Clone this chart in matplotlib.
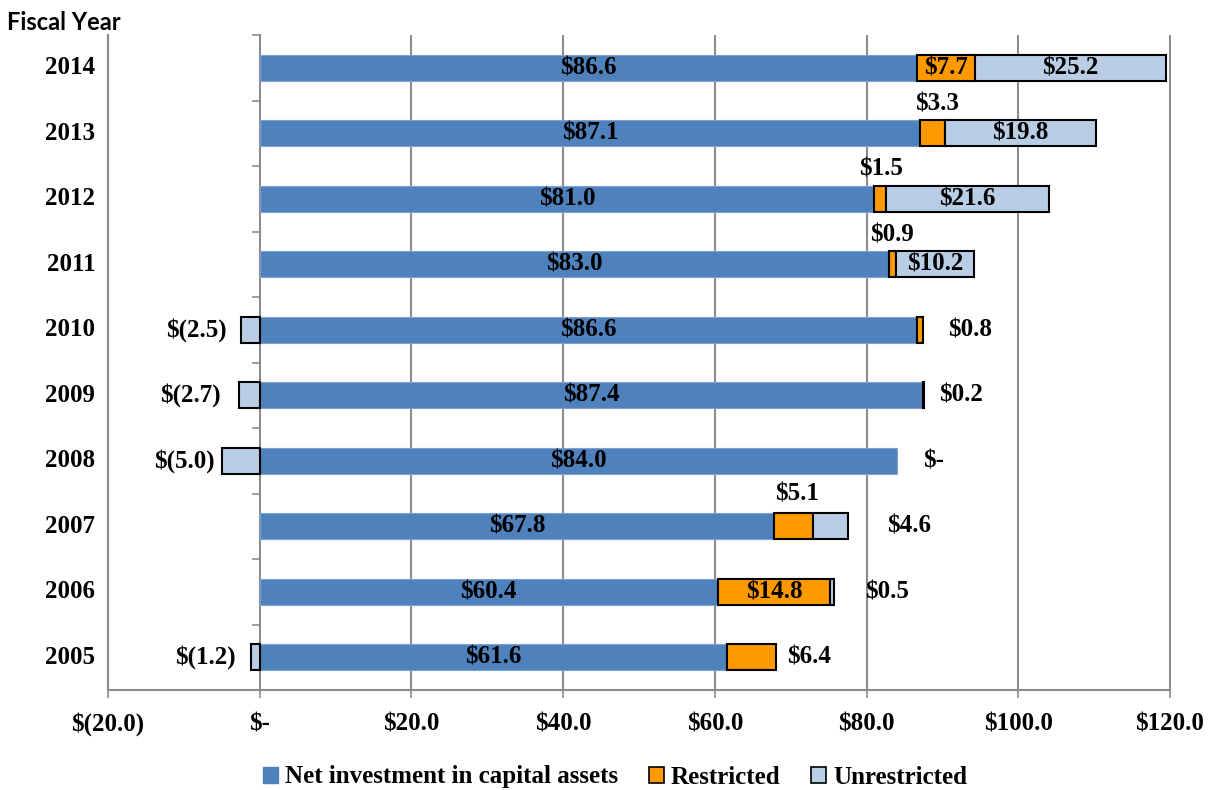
import matplotlib
matplotlib.use("Agg")
import matplotlib.pyplot as plt
from matplotlib.patches import Patch
import numpy as np

years = ["2005", "2006", "2007", "2008", "2009", "2010", "2011", "2012", "2013", "2014"]
net_investment = [61.6, 60.4, 67.8, 84.0, 87.4, 86.6, 83.0, 81.0, 87.1, 86.6]
restricted = [6.4, 14.8, 5.1, 0.0, 0.2, 0.8, 0.9, 1.5, 3.3, 7.7]
unrestricted = [-1.2, 0.5, 4.6, -5.0, -2.7, -2.5, 10.2, 21.6, 19.8, 25.2]
xticks = [-20, 0, 20, 40, 60, 80, 100, 120]
xtick_labels = ["$(20.0)", "$-", "$20.0", "$40.0", "$60.0", "$80.0", "$100.0", "$120.0"]

# label placements (x in data units, y offset in category units); None -> centered in segment
restricted_lab = [(72.4, 0), None, (70.8, 0.5), (88.8, 0), (92.4, 0), (93.6, 0),
                  (83.3, 0.45), (81.9, 0.45), (89.3, 0.45), None]
unrestricted_lab = [(-7.1, 0), (82.7, 0), (85.6, 0), (-9.9, 0), (-9.2, 0), (-8.4, 0),
                    None, None, None, None]

C_NET = "#4F81BD"
C_RES = "#FF9900"
C_UNR = "#B9CDE5"
GRID = "#8C8C8C"

def fmt(v):
    if v == 0:
        return "$-"
    if v < 0:
        return "$(%.1f)" % (-v)
    return "$%.1f" % v

SERIF = "Liberation Serif"
FS = 18

fig = plt.figure(figsize=(12.12, 7.9), dpi=100)
ax = fig.add_axes([108/1212, 1 - 690/790, (1170-108)/1212, (690-35)/790])

y = np.arange(len(years))
h = 0.4
net = np.array(net_investment)
res = np.array(restricted)
unr = np.array(unrestricted)
unr_left = np.where(unr >= 0, net + res, 0)

ax.barh(y, net, height=h, color=C_NET, edgecolor="#7FA3D1", linewidth=0.8, zorder=3)
ax.barh(y, res, left=net, height=h, color=C_RES, edgecolor="black",
        linewidth=[1.5 if v != 0 else 0 for v in res], zorder=3)
ax.barh(y, unr, left=unr_left, height=h, color=C_UNR, edgecolor="black",
        linewidth=[1.5 if v != 0 else 0 for v in unr], zorder=3)

tk = dict(fontfamily=SERIF, fontweight="bold", fontsize=FS, color="black", zorder=5)
for i in range(len(years)):
    ax.text(net[i] / 2, y[i], fmt(net[i]), ha="center", va="center", **tk)
    if restricted_lab[i] is None:
        ax.text(net[i] + res[i] / 2, y[i], fmt(res[i]), ha="center", va="center", **tk)
    else:
        lx, dy = restricted_lab[i]
        ax.text(lx, y[i] + dy, fmt(res[i]), ha="center", va="center", **tk)
    if unrestricted_lab[i] is None:
        ax.text(unr_left[i] + unr[i] / 2, y[i], fmt(unr[i]), ha="center", va="center", **tk)
    else:
        lx, dy = unrestricted_lab[i]
        ax.text(lx, y[i] + dy, fmt(unr[i]), ha="center", va="center", **tk)

ax.set_xlim(-20, 120)
ax.set_ylim(-0.5, len(years) - 0.5)
ax.set_xticks(xticks)
ax.set_xticklabels(xtick_labels, fontfamily=SERIF, fontweight="bold", fontsize=FS)
ax.tick_params(axis="x", length=6, width=1.2, color=GRID, pad=10)
for xv in xticks:
    if xv != 0:
        ax.plot([xv, xv], [0, 1], transform=ax.get_xaxis_transform(), color=GRID,
                linewidth=1.5, zorder=1, clip_on=False, solid_capstyle="butt")

# left border of the plot area (line at the axis minimum)
border = ax.spines["right"]
border.set_visible(False)
ax.spines["top"].set_visible(False)
ax2 = ax.twinx()
ax2.set_ylim(ax.get_ylim())
ax2.set_yticks([])
for s in ["top", "bottom", "right"]:
    ax2.spines[s].set_visible(False)
ax2.spines["left"].set_position(("axes", 0))
ax2.spines["left"].set_visible(True)
ax2.spines["left"].set_color(GRID)
ax2.spines["left"].set_linewidth(1.5)
ax2.patch.set_visible(False)

# category axis at x = 0
ax.spines["left"].set_position(("data", 0))
ax.spines["left"].set_color(GRID)
ax.spines["left"].set_linewidth(1.5)
ax.spines["left"].set_zorder(2)
ax.set_yticks(np.arange(-0.5, len(years), 1.0))
ax.set_yticklabels([])
ax.tick_params(axis="y", length=6, width=1.2, color=GRID, direction="out")
ax.spines["bottom"].set_color(GRID)
ax.spines["bottom"].set_linewidth(1.5)

for i, yr in enumerate(years):
    ax.text(-0.012, y[i], yr, transform=ax.get_yaxis_transform(), ha="right", va="center",
            fontfamily=SERIF, fontweight="bold", fontsize=FS)

fig.text(7/1212, 1 - 22/790, "Fiscal Year", ha="left", va="center",
         fontfamily="Lato", fontweight="bold", fontsize=17)

handles = [Patch(facecolor=C_NET, edgecolor=C_NET, label="Net investment in capital assets"),
           Patch(facecolor=C_RES, edgecolor="black", linewidth=1.2, label="Restricted"),
           Patch(facecolor=C_UNR, edgecolor="black", linewidth=1.2, label="Unrestricted")]
fig.legend(handles=handles, loc="center", bbox_to_anchor=(615/1212, 1 - 777/790), ncol=3,
           frameon=False, prop=dict(family=SERIF, weight="bold", size=FS),
           handlelength=0.6, handleheight=0.6, handletextpad=0.3, columnspacing=1.2)

fig.savefig("out.png", dpi=100)
